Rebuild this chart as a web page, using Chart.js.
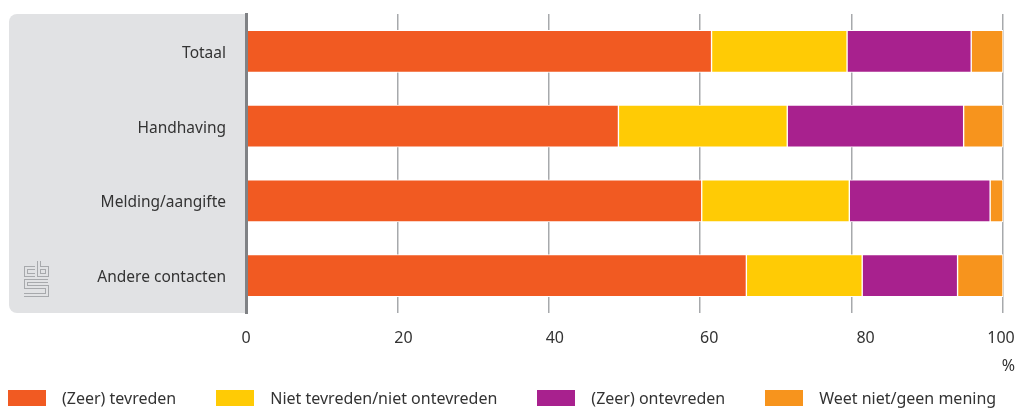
<!DOCTYPE html>
<html lang="nl">
<head>
  <meta charset="UTF-8">
  <title>Tevredenheid</title>
  <script src="https://cdn.jsdelivr.net/npm/chart.js"></script>
  <style>
    html, body { margin: 0; padding: 0; background: #fff; }
    #wrap { position: relative; width: 1016px; height: 408px; overflow: hidden; }
    #legend { position: absolute; left: 8px; top: 387px; display: flex; font: 16px "Noto Sans", sans-serif; color: #333; white-space: nowrap; }
    #legend div { display: flex; align-items: center; margin-right: 40px; height: 22px; }
    #legend span { display: block; width: 38px; height: 16px; margin-right: 16px; }
  </style>
</head>
<body>
  <div id="wrap">
    <canvas id="chart" width="1016" height="408"></canvas>
    <div id="legend"></div>
  </div>

  <script>
    const categories = ["Totaal", "Handhaving", "Melding/aangifte", "Andere contacten"];
    const seriesNames = ["(Zeer) tevreden", "Niet tevreden/niet ontevreden", "(Zeer) ontevreden", "Weet niet/geen mening"];
    const tevreden = [61.5, 49.2, 60.2, 66.1];
    const neutraal = [17.9, 22.3, 19.5, 15.3];
    const ontevreden = [16.4, 23.3, 18.6, 12.6];
    const geenMening = [4.2, 5.2, 1.7, 6.0];
    const seriesColors = ["#f15a22", "#ffcb05", "#a8218e", "#f7941d"];
    const xTicks = [0, 20, 40, 60, 80, 100];
    // the printed numbers do not sit exactly under their gridlines
    const xLabelShift = [0, 6, 6, 9, 14, -2];
    const textColor = "#333";
    const panelColor = "#e1e2e4";
    const fontName = '"Noto Sans", sans-serif';

    // cbs logo: hollow letters, drawn as a thick line with a thin line on top
    function logoLine(ctx, pts) {
      [[4, "#a7a9ac"], [2, panelColor]].forEach(([w, c]) => {
        ctx.lineWidth = w;
        ctx.strokeStyle = c;
        ctx.beginPath();
        pts.forEach((p, i) => i ? ctx.lineTo(p[0], p[1]) : ctx.moveTo(p[0], p[1]));
        ctx.stroke();
      });
    }

    const panelPlugin = {
      id: "panel",
      beforeDraw(chart) {
        const { ctx, chartArea } = chart;
        const h = chartArea.bottom - chartArea.top;
        ctx.save();
        ctx.fillStyle = panelColor;
        ctx.beginPath();
        ctx.roundRect(9, chartArea.top, chartArea.left - 9, h, [8, 0, 0, 8]);
        ctx.fill();
        logoLine(ctx, [[35, 268], [26, 268], [26, 275], [35, 275]]);
        logoLine(ctx, [[39, 261], [39, 275], [47, 275], [47, 268], [39, 268]]);
        logoLine(ctx, [[48, 281], [26, 281], [26, 287], [47, 287], [47, 295], [24, 295]]);
        ctx.restore();
      }
    };

    const labelPlugin = {
      id: "xLabels",
      afterDraw(chart) {
        const { ctx, scales } = chart;
        ctx.save();
        ctx.font = "16px " + fontName;
        ctx.fillStyle = textColor;
        ctx.textAlign = "center";
        ctx.textBaseline = "middle";
        xTicks.forEach((v, i) => {
          ctx.fillText(String(v), scales.x.getPixelForValue(v) + xLabelShift[i], 338);
        });
        ctx.textAlign = "right";
        ctx.fillText("%", 1015, 366);
        ctx.restore();
      }
    };

    const allValues = [tevreden, neutraal, ontevreden, geenMening];

    const chart = new Chart(document.getElementById("chart"), {
      type: "bar",
      data: {
        labels: categories,
        datasets: seriesNames.map((name, i) => ({
          label: name,
          data: allValues[i],
          backgroundColor: seriesColors[i],
          borderColor: "#fff",
          borderWidth: 1,
          borderSkipped: false,
          barThickness: 42
        }))
      },
      options: {
        indexAxis: "y",
        responsive: false,
        animation: false,
        layout: { autoPadding: false, padding: { top: 14, right: 13, bottom: 0, left: 0 } },
        plugins: { legend: { display: false }, tooltip: { enabled: false } },
        scales: {
          x: {
            stacked: true,
            min: 0,
            max: 100,
            afterFit(scale) { scale.height = 95; scale.paddingTop = 0; scale.paddingBottom = 0; },
            afterBuildTicks(scale) { scale.ticks = xTicks.map(v => ({ value: v })); },
            ticks: { display: false },
            grid: { color: "#a7a9ac", lineWidth: 1.5, drawTicks: false },
            border: { display: false }
          },
          y: {
            stacked: true,
            afterFit(scale) { scale.width = 246; scale.paddingTop = 0; scale.paddingBottom = 0; },
            ticks: { color: textColor, padding: 20, labelOffset: 2, font: { family: fontName, size: 15.5 } },
            grid: { display: false, drawTicks: false },
            border: { color: "#808285", width: 3, z: 1 }
          }
        }
      },
      plugins: [panelPlugin, labelPlugin]
    });

    // legend below the chart
    const legend = document.getElementById("legend");
    chart.data.datasets.forEach(ds => {
      const item = document.createElement("div");
      const box = document.createElement("span");
      box.style.background = ds.backgroundColor;
      item.appendChild(box);
      item.appendChild(document.createTextNode(ds.label));
      legend.appendChild(item);
    });
  </script>
</body>
</html>
